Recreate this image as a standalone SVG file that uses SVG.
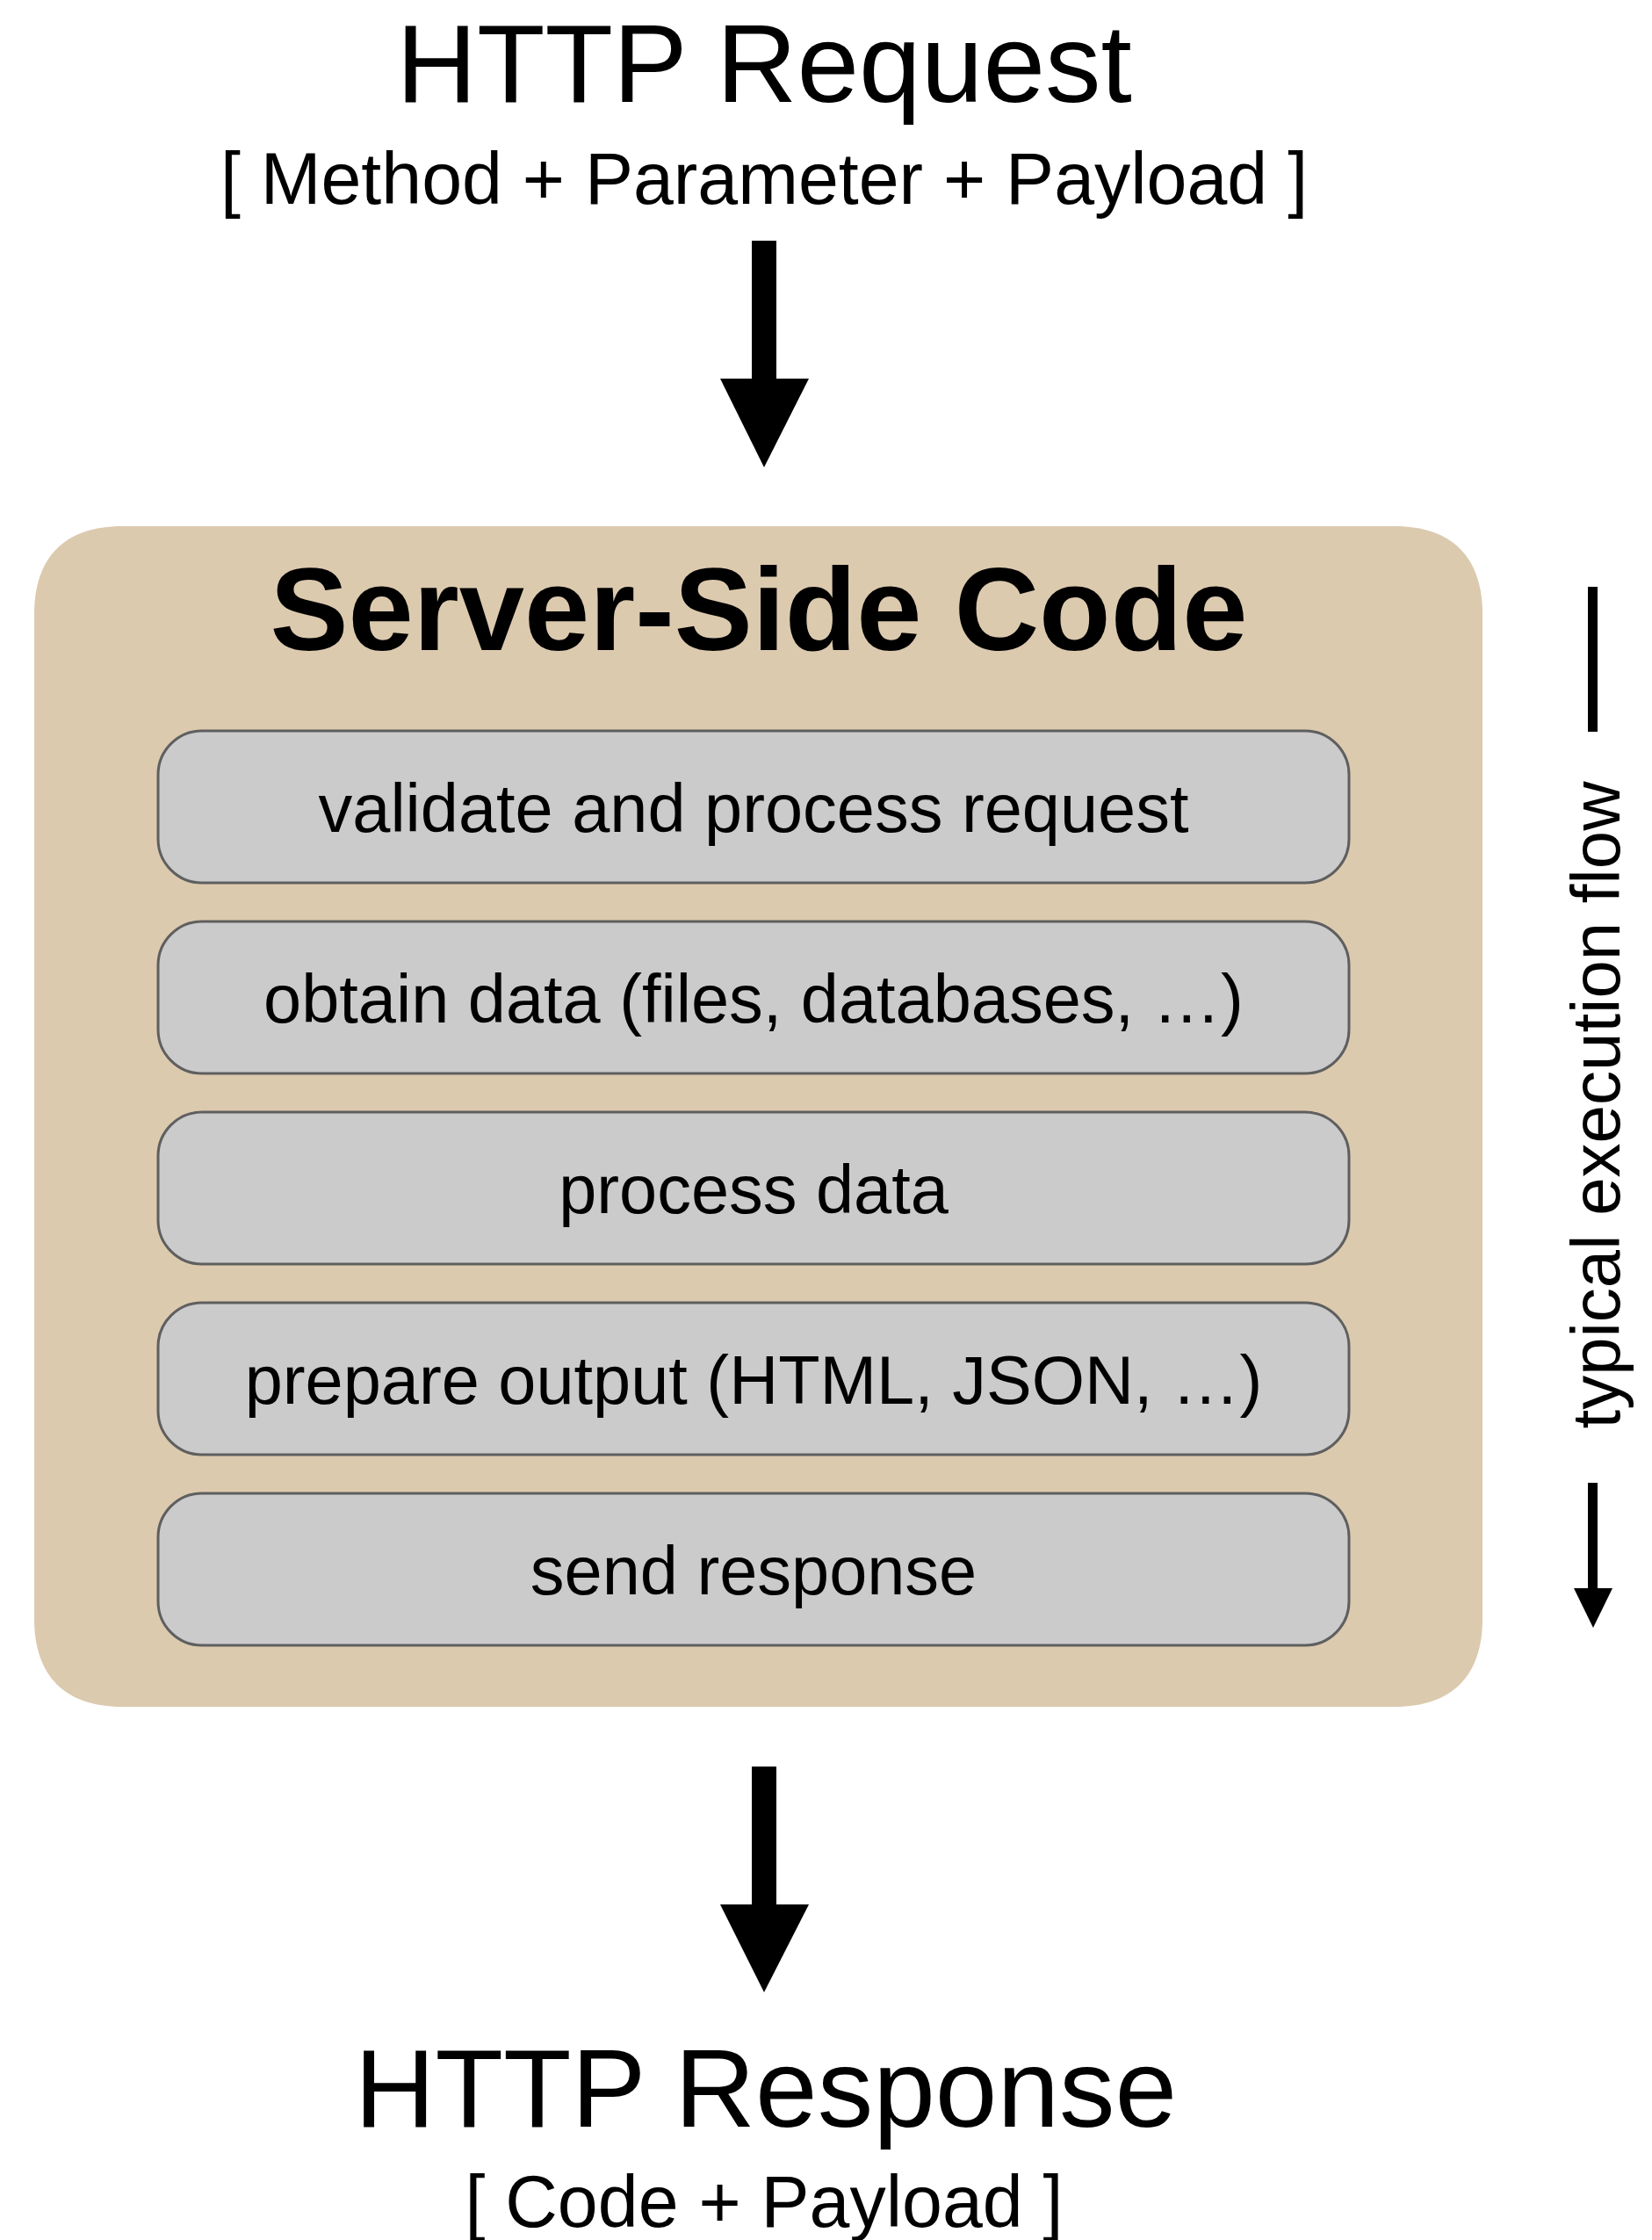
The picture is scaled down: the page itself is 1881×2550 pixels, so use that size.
<svg xmlns="http://www.w3.org/2000/svg" width="1881" height="2550" viewBox="0 0 1881 2550">
<style>
  .t { font-family: "Liberation Sans", Arial, sans-serif; fill: #000; text-anchor: middle; }
  .big { font-size: 127px; }
  .sub { font-size: 82.5px; }
  .title { font-size: 133.5px; font-weight: bold; }
  .step { font-size: 77.5px; }
  .side { font-size: 78px; }
  .box { fill: #cbcbcb; stroke: #5f5f5f; stroke-width: 3; }
  .arrow { fill: #000; }
</style>
<rect width="1881" height="2550" fill="#fff"/>

<g id="request">
  <text class="t big" x="870" y="116">HTTP Request</text>
  <text class="t sub" x="870" y="232">[ Method + Parameter + Payload ]</text>
</g>

<g id="server">
  <path d="M 139,599 H 1588 C 1653,599 1688,634 1688,699 V 1843 C 1688,1908 1653,1943 1588,1943 H 139 C 74,1943 39,1908 39,1843 V 699 C 39,634 74,599 139,599 Z" fill="#dccaaf"/>
  <text class="t title" x="864" y="740">Server-Side Code</text>
</g>

<g id="step1">
  <rect class="box" x="180" y="832" width="1356" height="173" rx="50" ry="50"/>
  <text class="t step" x="858" y="947">validate and process request</text>
</g>
<g id="step2">
  <rect class="box" x="180" y="1049" width="1356" height="173" rx="50" ry="50"/>
  <text class="t step" x="858" y="1164">obtain data (files, databases, …)</text>
</g>
<g id="step3">
  <rect class="box" x="180" y="1266" width="1356" height="173" rx="50" ry="50"/>
  <text class="t step" x="858" y="1381">process data</text>
</g>
<g id="step4">
  <rect class="box" x="180" y="1483" width="1356" height="173" rx="50" ry="50"/>
  <text class="t step" x="858" y="1598">prepare output (HTML, JSON, …)</text>
</g>
<g id="step5">
  <rect class="box" x="180" y="1700" width="1356" height="173" rx="50" ry="50"/>
  <text class="t step" x="858" y="1815">send response</text>
</g>

<g id="response">
  <text class="t big" x="872" y="2421">HTTP Response</text>
  <text class="t sub" x="870" y="2535">[ Code + Payload ]</text>
</g>

<g id="flow-label">
  <text class="t side" transform="translate(1844,1258) rotate(-90)" x="0" y="0">typical execution flow</text>
</g>

<g id="connectors">
  <rect class="arrow" x="856" y="274" width="28" height="158"/>
  <polygon class="arrow" points="820,431 921,431 870,532"/>
  <rect class="arrow" x="856" y="2011" width="28" height="158"/>
  <polygon class="arrow" points="820,2168 921,2168 870,2268"/>
  <rect class="arrow" x="1808" y="668" width="11" height="165"/>
  <rect class="arrow" x="1808" y="1688" width="11" height="121"/>
  <polygon class="arrow" points="1792,1808 1836,1808 1814,1853"/>
</g>
</svg>
